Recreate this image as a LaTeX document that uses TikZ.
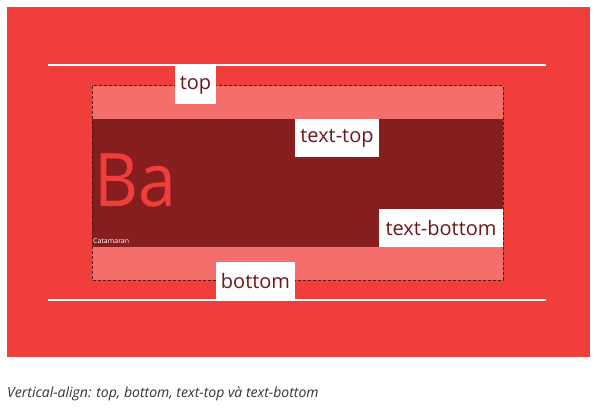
\documentclass[tikz,border=0pt]{standalone}
\usepackage{fontspec}
\setmainfont{Open Sans}
\usetikzlibrary{positioning}
\definecolor{vared}{RGB}{240,62,58}
\definecolor{valight}{RGB}{244,111,107}
\definecolor{vadark}{RGB}{134,29,31}
\definecolor{vatext}{RGB}{110,22,24}
\definecolor{vadash}{RGB}{80,20,22}
\tikzset{
  alignlbl/.style = {fill=white, text=vatext, inner sep=0pt,
                     minimum height=38pt, align=center,
                     font=\fontsize{20}{20}\selectfont},
  guideline/.style = {draw=white, line width=1.2pt},
  linebox/.style   = {draw=vadash, dash pattern=on 3pt off 2pt, line width=1pt},
}

\begin{document}
\begin{tikzpicture}[x=1pt, y=-1pt]
        \useasboundingbox[fill=white] (0,0) rectangle (604,417);
        % outer area and guide lines
        \fill[vared] (7,7) rectangle (590,357);
        \draw[guideline] (48,65) -- (546,65);
        \draw[guideline] (48,300) -- (546,300);
        % line box with inline content
        \fill[valight] (92,86) rectangle (503,280);
        \fill[vadark] (92,119) rectangle (503,247);
        \draw[linebox] (92,86) rectangle (503,280);
        \node[anchor=base west, inner sep=0pt, text=vared,
              font=\fontsize{74}{74}\selectfont] (ba) at (94,206) {\scalebox{0.92}[1]{Ba}};
        \node[anchor=base west, inner sep=0pt, text=white,
              font=\fontsize{7}{7}\selectfont] (fam) at (93,243) {Catamaran};
        % labels
        \node[alignlbl, minimum width=41pt] (top) at (195.5,85) {top};
        \node[alignlbl, minimum width=84pt] (ttop) at (337,138) {text-top};
        \node[alignlbl, minimum width=124pt] (tbot) at (441,228) {text-bottom};
        \node[alignlbl, minimum width=79pt, minimum height=37pt] (bot) at (255.5,280.5) {bottom};
        % caption
        \node[anchor=base west, inner sep=0pt, text=black!80,
              font=\fontsize{14}{14}\selectfont\itshape] (cap) at (7,397)
              {Vertical-align: top, bottom, text-top và text-bottom};
      \end{tikzpicture}
\end{document}
